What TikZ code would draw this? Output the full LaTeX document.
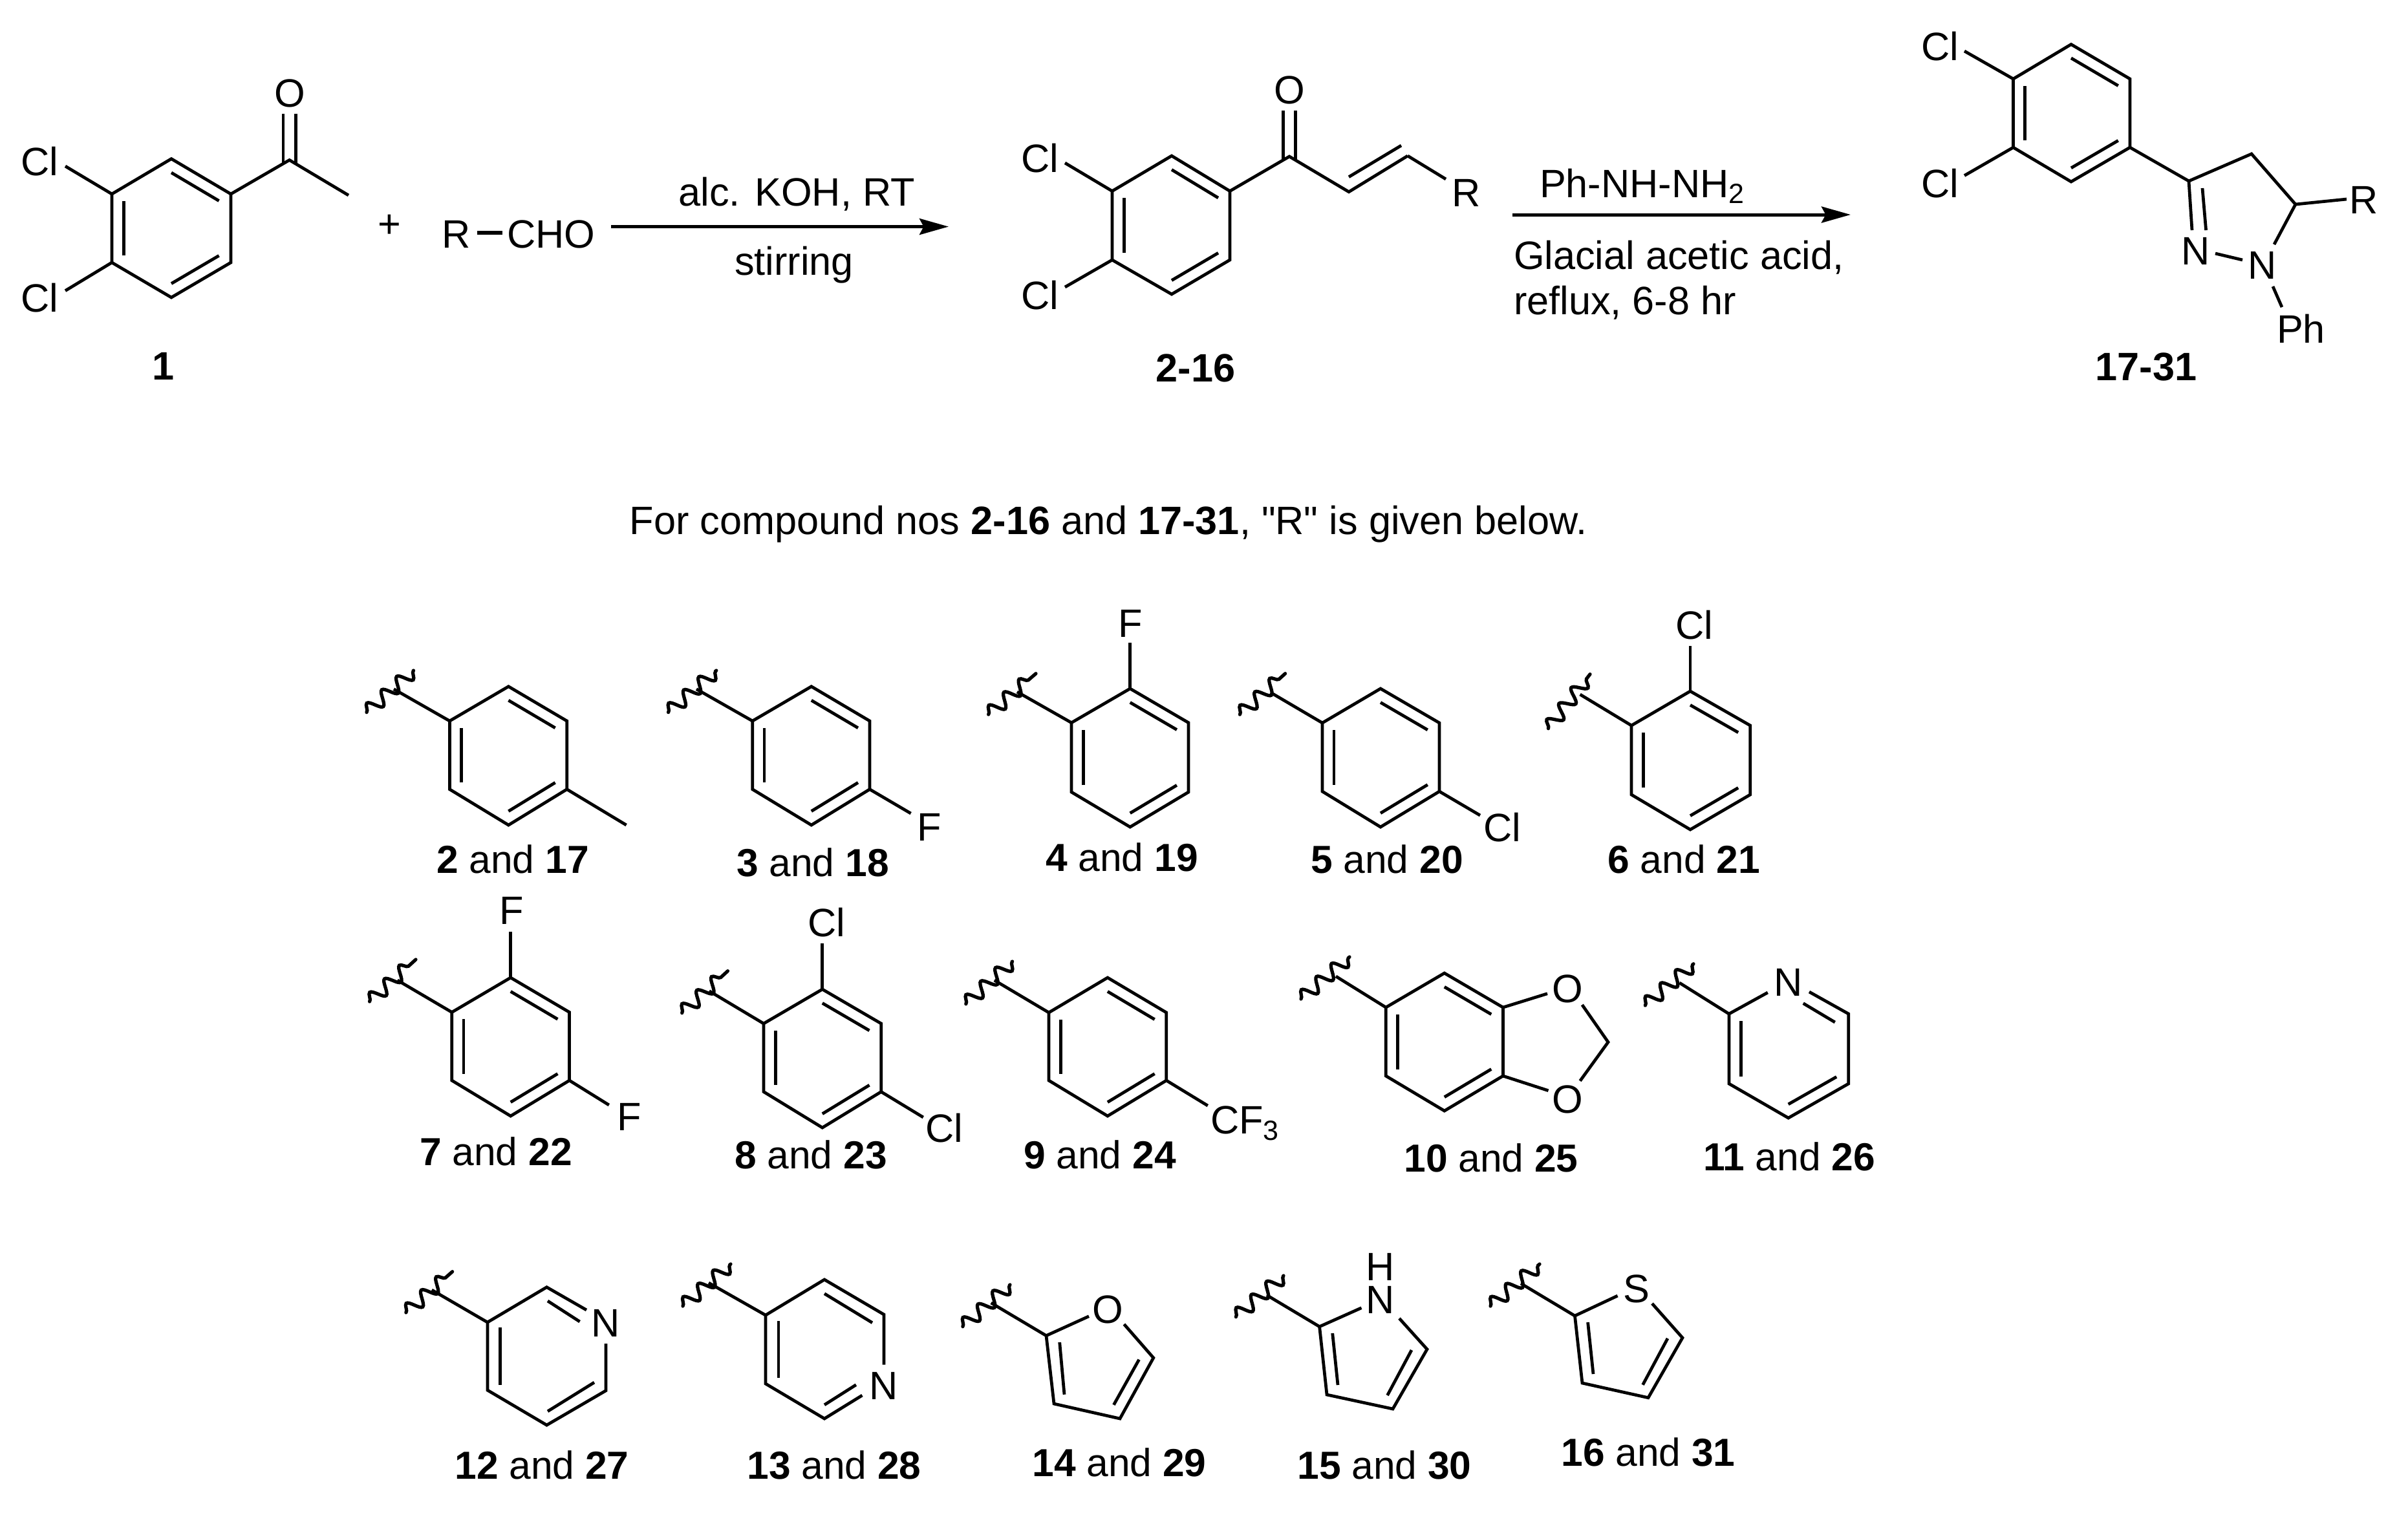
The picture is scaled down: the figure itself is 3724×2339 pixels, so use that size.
\documentclass[tikz,border=0pt]{standalone}
\usepackage{fontspec}
\setmainfont{Liberation Sans}
\newfontfamily\plainquote{Liberation Sans}
\usetikzlibrary{arrows.meta,calc,decorations.pathmorphing}
\newcommand{\chemfont}{\fontsize{12.25}{14}\selectfont}
\newcommand{\labfont}{\fontsize{12.1}{14}\selectfont}
\newcommand{\sbs}[1]{\raisebox{-0.3ex}{\fontsize{8.6}{9}\selectfont #1}}
\tikzset{
  bond/.style={line width=0.95pt,line cap=butt,line join=miter,miter limit=4},
  wave/.style={line width=1.05pt,line cap=round,decorate,decoration={snake,amplitude=2.1pt,segment length=6.2pt}},
  atom/.style={inner sep=0pt,outer sep=0pt,font=\chemfont,text=black},
  rxnarrow/.style={line width=1pt,-{Stealth[length=9pt,width=5pt,inset=1.3pt]}},
}
% ring: prefix, xl, xc, xr, ytop, yupper, ylower, ybottom
\newcommand{\benz}[8]{%
  \coordinate (#11) at (#3,#5);
  \coordinate (#12) at (#4,#6);
  \coordinate (#13) at (#4,#7);
  \coordinate (#14) at (#3,#8);
  \coordinate (#15) at (#2,#7);
  \coordinate (#16) at (#2,#6);
  \coordinate (#1c) at ($(#11)!0.5!(#14)$);
  \draw[bond] (#11)--(#12)--(#13)--(#14)--(#15)--(#16)--cycle;
  \draw[bond] ($(#1c)!0.8!(#11)$)--($(#1c)!0.8!(#12)$);
  \draw[bond] ($(#1c)!0.8!(#13)$)--($(#1c)!0.8!(#14)$);
  \draw[bond] ($(#1c)!0.8!(#15)$)--($(#1c)!0.8!(#16)$);
}
% substituent bond: from, name of free end, x, y
\newcommand{\sbond}[4]{\coordinate (#2) at (#3,#4); \draw[bond] (#1)--(#2);}
% wavy attachment: name, x1,y1,x2,y2
\newcommand{\wavy}[5]{\coordinate (#1a) at (#2,#3); \coordinate (#1b) at (#4,#5); \draw[wave] (#1a)--(#1b);}
\newcommand{\atomat}[4]{\node[atom] (#1) at (#2,#3) {#4};}
\newcommand{\lab}[5]{\node[atom,font=\labfont] (#1) at (#2,#3) {\textbf{#4} and \textbf{#5}};}
\begin{document}
\begin{tikzpicture}[x=0.2pt,y=-0.2pt]
\useasboundingbox (0,0) rectangle (3724,2339);
\fill[white] (0,0) rectangle (3724,2339);

% ---------- compound 1
\benz{A}{173}{265}{357}{245.6}{300}{406}{460}
\coordinate (Ac) at (447.6,247.5);
\coordinate (Am) at (539,302);
\draw[bond] (A2)--(Ac)--(Am);
\coordinate (Ao1) at (438,175.6); \coordinate (Ao2) at (457.2,175.6);
\coordinate (Ao3) at (438,253); \coordinate (Ao4) at (457.2,253);
\draw[bond] (Ao1)--(Ao3); \draw[bond] (Ao2)--(Ao4);
\atomat{AO}{448}{144}{O}
\atomat{ACla}{61}{250}{Cl}
\atomat{AClb}{61}{461}{Cl}
\sbond{A6}{Ae1}{101}{257}
\sbond{A5}{Ae2}{101}{449.6}
\node[atom] (Alab) at (253,566) {\textbf{1}};
\node[atom] (plus) at (602.6,350) {+};
\atomat{Rr}{706}{362}{R}
\atomat{Rcho}{852.5}{362}{CHO}
\coordinate (Rb1) at (738,360); \coordinate (Rb2) at (777,360);
\draw[line width=1.1pt] (Rb1)--(Rb2);

% ---------- arrow 1
\coordinate (a1s) at (945,350.5); \coordinate (a1e) at (1467,350.5);
\draw[rxnarrow] (a1s)--(a1e);
\node[atom,anchor=base] (t1) at (1232,318) {alc. KOH, RT};
\node[atom,anchor=base] (t2) at (1228,425) {stirring};

% ---------- compound 2-16
\benz{B}{1720}{1812}{1902}{241}{295.5}{402}{455}
\coordinate (Bc) at (1994,242);
\coordinate (Bd) at (2086,296.7);
\coordinate (Be) at (2177,241);
\draw[bond] (B2)--(Bc)--(Bd)--(Be);
\sbond{Be}{Bf}{2236}{277}
\coordinate (Bi1) at (2086,273.6); \coordinate (Bi2) at (2167,225);
\draw[bond] (Bi1)--(Bi2);
\coordinate (Bo1) at (1984.5,171); \coordinate (Bo2) at (2003.5,171);
\coordinate (Bo3) at (1984.5,247.5); \coordinate (Bo4) at (2003.5,247.5);
\draw[bond] (Bo1)--(Bo3); \draw[bond] (Bo2)--(Bo4);
\atomat{BO}{1994}{139}{O}
\atomat{BR}{2268}{298}{R}
\atomat{BCla}{1608}{245}{Cl}
\atomat{BClb}{1608}{457}{Cl}
\sbond{B6}{Be1}{1647}{252}
\sbond{B5}{Be2}{1647}{444}
\node[atom] (Blab) at (1849,569) {\textbf{2-16}};

% ---------- arrow 2
\coordinate (a2s) at (2339,332); \coordinate (a2e) at (2862,332);
\draw[rxnarrow] (a2s)--(a2e);
\node[atom,anchor=base west] (t3) at (2381,305) {Ph-NH-NH\sbs{2}};
\node[atom,anchor=base west] (t4) at (2341,416) {Glacial acetic acid,};
\node[atom,anchor=base west] (t5) at (2341,486) {reflux, 6-8 hr};

% ---------- compound 17-31
\benz{C}{3113.5}{3203}{3294}{68.6}{122}{228}{281}
\coordinate (Cc) at (3385,280);
\coordinate (Cd) at (3482,238);
\coordinate (Ce) at (3550,316);
\draw[bond] (C3)--(Cc)--(Cd)--(Ce);
\sbond{Ce}{Cf}{3629}{308}
\sbond{Ce}{Cg}{3517}{378}
\sbond{Cc}{Ch}{3390}{356}
\coordinate (Ci1) at (3406,291); \coordinate (Ci2) at (3411.6,356);
\draw[bond] (Ci1)--(Ci2);
\coordinate (Cj1) at (3426,392); \coordinate (Cj2) at (3468,402);
\draw[bond] (Cj1)--(Cj2);
\coordinate (Ck1) at (3515,443); \coordinate (Ck2) at (3529,475);
\draw[bond] (Ck1)--(Ck2);
\atomat{CN1}{3396}{388}{N}
\atomat{CN2}{3498.5}{410}{N}
\atomat{CR}{3656}{309}{R}
\atomat{CPh}{3558.5}{508}{Ph}
\atomat{CCla}{3000}{72}{Cl}
\atomat{CClb}{3000}{284}{Cl}
\sbond{C6}{Ce1}{3038}{79}
\sbond{C5}{Ce2}{3038}{271.5}
\node[atom] (Clab) at (3319,567) {\textbf{17-31}};

% ---------- caption
\node[atom,anchor=base] (cap) at (1714,826) {For compound nos \textbf{2-16} and \textbf{17-31}, {\plainquote "R"} is given below.};

% ---------- 2 and 17
\benz{D}{695.4}{786.4}{876.7}{1061.7}{1115}{1220.7}{1276}
\sbond{D6}{De}{609}{1065.7}
\wavy{Dw}{567}{1101.7}{639.5}{1037}
\sbond{D3}{Dm}{968.6}{1276}
\lab{Dl}{793}{1329}{2}{17}

% ---------- 3 and 18
\benz{E}{1163.7}{1254.8}{1345}{1061.7}{1115}{1220.7}{1276}
\sbond{E6}{Ee}{1077}{1065.7}
\wavy{Ew}{1033.6}{1101.7}{1107.8}{1037}
\sbond{E3}{Ef}{1408.6}{1258}
\atomat{EF}{1437}{1279}{F}
\lab{El}{1257}{1334}{3}{18}

% ---------- 4 and 19
\benz{F}{1657}{1747.7}{1838}{1065}{1117.7}{1225}{1279}
\sbond{F6}{Fe}{1573}{1070}
\wavy{Fw}{1528.7}{1105}{1602}{1041.7}
\sbond{F1}{Ff}{1747.7}{994}
\atomat{FF}{1747.7}{964}{F}
\lab{Fl}{1735}{1326}{4}{19}

% ---------- 5 and 20
\benz{G}{2045}{2135}{2226}{1065}{1118}{1224}{1279}
\sbond{G6}{Ge}{1965}{1071}
\wavy{Gw}{1917.5}{1105}{1987.6}{1041.7}
\sbond{G3}{Gf}{2289}{1261}
\atomat{GCl}{2323}{1280}{Cl}
\lab{Gl}{2145}{1329}{5}{20}

% ---------- 6 and 21
\benz{H}{2523}{2614}{2706.7}{1069}{1122}{1229}{1283}
\sbond{H6}{He}{2443.6}{1074}
\wavy{Hw}{2394.5}{1126.7}{2459}{1042.7}
\sbond{H1}{Hf}{2614}{999}
\atomat{HCl}{2620}{966.7}{Cl}
\lab{Hl}{2604}{1329}{6}{21}

% ---------- 7 and 22
\benz{I}{698.8}{789.7}{880.6}{1512}{1565.5}{1671}{1726}
\sbond{I6}{Ie}{614.6}{1516}
\wavy{Iw}{571.6}{1549}{643}{1484}
\sbond{I1}{If}{789.7}{1440.7}
\atomat{IFa}{791}{1408}{F}
\sbond{I3}{Ig}{941.8}{1709}
\atomat{IFb}{973}{1727}{F}
\lab{Il}{767}{1781}{7}{22}

% ---------- 8 and 23
\benz{J}{1181}{1271.8}{1362.7}{1530}{1583}{1688.5}{1744}
\sbond{J6}{Je}{1096.8}{1532.7}
\wavy{Jw}{1054.7}{1566.7}{1125.5}{1501.7}
\sbond{J1}{Jf}{1271.8}{1459}
\atomat{JCla}{1278.5}{1427}{Cl}
\sbond{J3}{Jg}{1427.8}{1728}
\atomat{JClb}{1460}{1745}{Cl}
\lab{Jl}{1254}{1786}{8}{23}

% ---------- 9 and 24
\benz{K}{1622}{1712.9}{1803.8}{1512}{1566}{1671}{1726}
\sbond{K6}{Ke}{1537.8}{1516}
\wavy{Kw}{1493.8}{1552.7}{1565.6}{1487}
\sbond{K3}{Kf}{1867.8}{1710}
\node[atom,anchor=west] (KCF) at (1872,1737) {CF\sbs{3}};
\lab{Kl}{1701}{1786}{9}{24}

% ---------- 10 and 25
\benz{L}{2143.3}{2233.8}{2324.4}{1505}{1558}{1664}{1718}
\sbond{L6}{Le}{2066}{1510}
\wavy{Lw}{2012}{1545}{2087}{1480}
\sbond{L2}{Lf}{2393}{1536.7}
\sbond{L3}{Lg}{2394.5}{1686.7}
\coordinate (Lh) at (2446.8,1554); \coordinate (Li) at (2487,1611.7); \coordinate (Lj) at (2443.6,1671.7);
\draw[bond] (Lh)--(Li)--(Lj);
\atomat{LOa}{2424.5}{1529}{O}
\atomat{LOb}{2424.5}{1700}{O}
\lab{Ll}{2306}{1791}{10}{25}

% ---------- 11 and 26
\coordinate (M2) at (2858.8,1568); \coordinate (M3) at (2858.8,1676);
\coordinate (M4) at (2765.7,1729); \coordinate (M5) at (2673.9,1676); \coordinate (M6) at (2673.9,1568);
\coordinate (Ma) at (2733.8,1535); \coordinate (Mb) at (2798,1534);
\draw[bond] (Ma)--(M6)--(M5)--(M4)--(M3)--(M2)--(Mb);
\coordinate (Mc) at (2765.7,1623);
\draw[bond] ($(Mc)!0.8!(M5)$)--($(Mc)!0.8!(M6)$);
\draw[bond] ($(Mc)!0.8!(M3)$)--($(Mc)!0.8!(M4)$);
\coordinate (Md) at (2788.7,1551.7); \coordinate (Mf) at (2837.8,1581);
\draw[bond] (Md)--(Mf);
\sbond{M6}{Me}{2597.3}{1520}
\wavy{Mw}{2544.4}{1555}{2619}{1490.7}
\atomat{MN}{2765.7}{1519}{N}
\lab{Ml}{2767}{1789}{11}{26}

% ---------- 12 and 27
\coordinate (N1) at (845.5,1990.7); \coordinate (N2) at (907,2026);
\coordinate (N3) at (937,2078); \coordinate (N4) at (937,2150.7);
\coordinate (N5) at (845.5,2204); \coordinate (N6) at (753.9,2150); \coordinate (N7) at (753.9,2045);
\draw[bond] (N2)--(N1)--(N7)--(N6)--(N5)--(N4)--(N3);
\coordinate (Na) at (847,2012); \coordinate (Nb) at (896.6,2044);
\draw[bond] (Na)--(Nb);
\coordinate (Nc) at (773.8,2053); \coordinate (Nd) at (773.8,2141.7);
\draw[bond] (Nc)--(Nd);
\coordinate (Nf) at (847,2182.7); \coordinate (Ng) at (919,2138);
\draw[bond] (Nf)--(Ng);
\sbond{N7}{Ne}{667.8}{1995}
\wavy{Nw}{627.9}{2030}{699.6}{1966.7}
\atomat{NN}{937}{2046.7}{N}
\lab{Nl}{838}{2266}{12}{27}

% ---------- 13 and 28
\coordinate (O1) at (1275,1979); \coordinate (O2) at (1367,2033);
\coordinate (O3) at (1367,2110.7); \coordinate (O4) at (1333.4,2158);
\coordinate (O5) at (1275,2194); \coordinate (O6) at (1184,2140); \coordinate (O7) at (1184,2034);
\draw[bond] (O3)--(O2)--(O1)--(O7)--(O6)--(O5)--(O4);
\coordinate (Oa) at (1275,2000.7); \coordinate (Ob) at (1349,2045.7);
\draw[bond] (Oa)--(Ob);
\coordinate (Oc) at (1204,2043); \coordinate (Od) at (1204,2130.7);
\draw[bond] (Oc)--(Od);
\coordinate (Of) at (1275,2172.7); \coordinate (Og) at (1323.9,2141.7);
\draw[bond] (Of)--(Og);
\sbond{O7}{Oe}{1096}{1984}
\wavy{Ow}{1056}{2020}{1130}{1955}
\atomat{ON}{1367}{2143}{N}
\lab{Ol}{1290}{2266}{13}{28}

% ---------- 14 and 29
\coordinate (P2) at (1618,2065.7); \coordinate (P3) at (1630,2171);
\coordinate (P4) at (1732,2194); \coordinate (P5) at (1783.8,2100);
\coordinate (Pa) at (1684,2035.7); \coordinate (Pb) at (1738.4,2048);
\draw[bond] (Pa)--(P2)--(P3)--(P4)--(P5)--(Pb);
\coordinate (Pc) at (1638.7,2076); \coordinate (Pd) at (1646,2156.7);
\draw[bond] (Pc)--(Pd);
\coordinate (Pf) at (1761.5,2102.7); \coordinate (Pg) at (1722.4,2172.7);
\draw[bond] (Pf)--(Pg);
\sbond{P2}{Pe}{1532.7}{2015}
\wavy{Pw}{1488.9}{2051.7}{1562}{1987}
\atomat{PO}{1713.7}{2025}{O}
\lab{Pl}{1731}{2262}{14}{29}

% ---------- 15 and 30
\coordinate (Q2) at (2040.6,2051.7); \coordinate (Q3) at (2052,2157);
\coordinate (Q4) at (2154,2179); \coordinate (Q5) at (2207,2086.7);
\coordinate (Qa) at (2105.5,2022.7); \coordinate (Qb) at (2164,2039);
\draw[bond] (Qa)--(Q2)--(Q3)--(Q4)--(Q5)--(Qb);
\coordinate (Qc) at (2060.7,2062); \coordinate (Qd) at (2069,2142);
\draw[bond] (Qc)--(Qd);
\coordinate (Qf) at (2183,2088); \coordinate (Qg) at (2145.6,2158);
\draw[bond] (Qf)--(Qg);
\sbond{Q2}{Qe}{1959}{2003}
\wavy{Qw}{1911.4}{2036.7}{1985}{1973}
\node[inner sep=0pt,outer sep=0pt,align=center,font=\fontsize{12.25}{10.34}\selectfont] (QNH) at (2135,1985) {H\\N};
\lab{Ql}{2141}{2266}{15}{30}

% ---------- 16 and 31
\coordinate (S2) at (2435.5,2035); \coordinate (S3) at (2447,2139);
\coordinate (S4) at (2549,2161.7); \coordinate (S5) at (2602,2069);
\coordinate (Sa) at (2501.6,2004); \coordinate (Sb) at (2555,2016);
\draw[bond] (Sa)--(S2)--(S3)--(S4)--(S5)--(Sb);
\coordinate (Sc) at (2455.6,2045); \coordinate (Sd) at (2464,2125);
\draw[bond] (Sc)--(Sd);
\coordinate (Sf) at (2579,2070); \coordinate (Sg) at (2540.6,2141.7);
\draw[bond] (Sf)--(Sg);
\sbond{S2}{Se}{2352}{1985}
\wavy{Sw}{2305}{2020}{2381}{1955}
\atomat{SS}{2531.4}{1993}{S}
\lab{Sl}{2549}{2246}{16}{31}
\end{tikzpicture}
\end{document}
